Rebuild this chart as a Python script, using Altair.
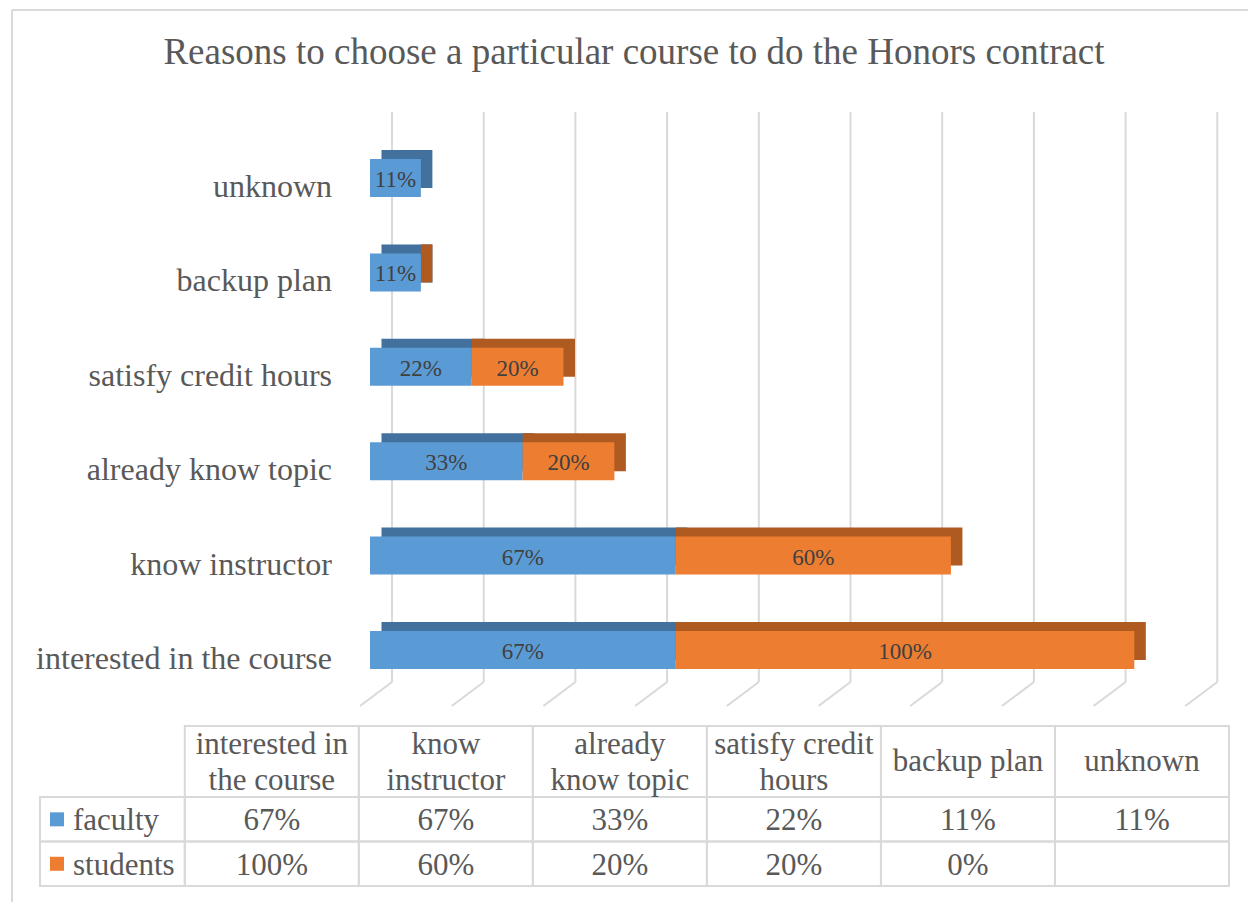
import altair as alt
import pandas as pd

# ---------------- data ----------------
title = "Reasons to choose a particular course to do the Honors contract"
categories = ["interested in the course", "know instructor", "already know topic",
              "satisfy credit hours", "backup plan", "unknown"]
header_labels = ["interested in\nthe course", "know\ninstructor", "already\nknow topic",
                 "satisfy credit\nhours", "backup plan", "unknown"]
series = ["faculty", "students"]
faculty = [0.667, 0.667, 0.333, 0.222, 0.111, 0.111]
students = [1.00, 0.60, 0.20, 0.20, 0.00, None]
grid_ticks = [0.0, 0.2, 0.4, 0.6, 0.8, 1.0, 1.2, 1.4, 1.6, 1.8]

colors = ["#5B9BD5", "#ED7D31"]
dark_colors = ["#41719C", "#AE5A21"]
FONT = "'Liberation Serif', 'Times New Roman', Times, 'DejaVu Serif', serif"
TXT = "#595959"
GRID = "#D9D9D9"

# ---------------- tables ----------------
rows = []
for i, c in enumerate(categories):
    for s_idx, (s, vals) in enumerate(zip(series, [faculty, students])):
        v = vals[i]
        if v is not None:
            rows.append({"category": c, "series": s, "s_idx": s_idx, "value": v})
bars_df = pd.DataFrame(rows)
grid_df = pd.DataFrame({"g": grid_ticks})
cat_df = pd.DataFrame({"category": categories})

cat_order = list(reversed(categories))  # top to bottom

xs = alt.Scale(domain=[0, 1.8], range=[362, 362 + 180 * 4.585])
ys = alt.Scale(type="band", domain=cat_order, range=[122.8, 689.2], paddingInner=0, paddingOuter=0)
col_scale = alt.Scale(domain=series, range=colors)
dark_scale = alt.Scale(domain=series, range=dark_colors)


def stacked(base):
    return base.transform_stack(
        stack="value", groupby=["category"], sort=[alt.SortField("s_idx")], as_=["v0", "v1"]
    ).transform_calculate(mid="(datum.v0 + datum.v1) / 2")


# gridlines (back wall + floor)
grid_v = alt.Chart(grid_df).mark_rule(color=GRID, strokeWidth=2, xOffset=22).encode(
    x=alt.X("g:Q", scale=xs, axis=None), y=alt.value(104), y2=alt.value(674)
)
grid_d = alt.Chart(grid_df).mark_rule(color=GRID, strokeWidth=2, xOffset=22, x2Offset=-10).encode(
    x=alt.X("g:Q", scale=xs, axis=None), x2="g:Q", y=alt.value(674), y2=alt.value(698)
)

# back (top / side) faces
back_fac = stacked(alt.Chart(bars_df)).transform_filter(alt.datum.series == "faculty").mark_bar(
    size=38, xOffset=11.5, x2Offset=11.5, yOffset=-9, y2Offset=-9
).encode(
    x=alt.X("v0:Q", scale=xs, axis=None), x2="v1:Q",
    y=alt.Y("category:N", scale=ys, axis=None),
    color=alt.Color("series:N", scale=dark_scale, legend=None),
)
back_stu = stacked(alt.Chart(bars_df)).transform_filter(alt.datum.series == "students").mark_bar(
    size=38, xOffset=0, x2Offset=11.5, yOffset=-9, y2Offset=-9
).encode(
    x=alt.X("v0:Q", scale=xs, axis=None), x2="v1:Q",
    y=alt.Y("category:N", scale=ys, axis=None),
    color=alt.Color("series:N", scale=dark_scale, legend=None),
)
front = stacked(alt.Chart(bars_df)).mark_bar(size=38).encode(
    x=alt.X("v0:Q", scale=xs, axis=None), x2="v1:Q",
    y=alt.Y("category:N", scale=ys, axis=None),
    color=alt.Color("series:N", scale=col_scale, legend=None),
)
bar_labels = stacked(alt.Chart(bars_df)).transform_filter(alt.datum.value > 0).mark_text(
    font=FONT, fontSize=23, color="#404040", baseline="middle", align="center", dy=2
).encode(
    x=alt.X("mid:Q", scale=xs, axis=None),
    y=alt.Y("category:N", scale=ys, axis=None),
    text=alt.Text("value:Q", format=".0%"),
)
cat_labels = alt.Chart(cat_df).mark_text(
    font=FONT, fontSize=32, color=TXT, align="right", baseline="middle", dy=9
).encode(
    x=alt.value(324),
    y=alt.Y("category:N", scale=ys, axis=None),
    text="category:N",
)

title_layer = alt.Chart(alt.Data(values=[{"t": title}])).mark_text(
    font=FONT, fontSize=37, color=TXT, align="center", baseline="middle"
).encode(x=alt.value(626), y=alt.value(45), text="t:N")

# ---------------- data table ----------------
LEG = 0.832
HEAD = 1.6
cells = []
text_cells = []
header_cells = []
for i, c in enumerate(categories):
    cells.append({"x0": i, "x1": i + 1, "y0": 0, "y1": HEAD})
    header_cells.append({"xc": i + 0.5, "yc": HEAD / 2, "t": header_labels[i],
                         "lines": header_labels[i].count("\n") + 1})
for r, (s, vals) in enumerate(zip(series, [faculty, students])):
    y0 = HEAD + r
    cells.append({"x0": -LEG, "x1": 0, "y0": y0, "y1": y0 + 1})
    for i, v in enumerate(vals):
        cells.append({"x0": i, "x1": i + 1, "y0": y0, "y1": y0 + 1})
        if v is not None:
            text_cells.append({"xc": i + 0.5, "yc": y0 + 0.5, "t": f"{round(v * 100)}%"})
cells_df = pd.DataFrame(cells)
tcell_df = pd.DataFrame(text_cells)
hcell_df = pd.DataFrame(header_cells)
legend_df = pd.DataFrame({"series": series, "yc": [HEAD + 0.5, HEAD + 1.5]})

tx = alt.Scale(domain=[-LEG, 6], range=[32, 1221])
ty = alt.Scale(domain=[0, HEAD + 2], range=[718, 878])

table_cells = alt.Chart(cells_df).mark_rect(fill=None, stroke=GRID, strokeWidth=2).encode(
    x=alt.X("x0:Q", scale=tx, axis=None), x2="x1:Q",
    y=alt.Y("y0:Q", scale=ty, axis=None), y2="y1:Q",
)
table_text = alt.Chart(tcell_df).mark_text(
    font=FONT, fontSize=31, color=TXT, align="center", baseline="middle", dy=2
).encode(
    x=alt.X("xc:Q", scale=tx, axis=None),
    y=alt.Y("yc:Q", scale=ty, axis=None),
    text="t:N",
)
header_one = alt.Chart(hcell_df).transform_filter(alt.datum.lines == 1).mark_text(
    font=FONT, fontSize=31, color=TXT, align="center", baseline="middle"
).encode(
    x=alt.X("xc:Q", scale=tx, axis=None),
    y=alt.Y("yc:Q", scale=ty, axis=None),
    text="t:N",
)
header_two = alt.Chart(hcell_df).transform_filter(alt.datum.lines == 2).mark_text(
    font=FONT, fontSize=31, color=TXT, align="center", baseline="middle",
    lineBreak="\n", lineHeight=36, dy=-17
).encode(
    x=alt.X("xc:Q", scale=tx, axis=None),
    y=alt.Y("yc:Q", scale=ty, axis=None),
    text="t:N",
)
legend_sw = alt.Chart(legend_df).mark_square(size=196, opacity=1, filled=True).encode(
    x=alt.value(49),
    y=alt.Y("yc:Q", scale=ty, axis=None),
    color=alt.Color("series:N", scale=col_scale, legend=None),
)
legend_tx = alt.Chart(legend_df).mark_text(
    font=FONT, fontSize=31, color=TXT, align="left", baseline="middle", dy=2
).encode(
    x=alt.value(65),
    y=alt.Y("yc:Q", scale=ty, axis=None),
    text="series:N",
)

# outer frame (top and left edges)
frame_top = alt.Chart(alt.Data(values=[{}])).mark_rule(color=GRID, strokeWidth=2).encode(
    x=alt.value(4), x2=alt.value(1240), y=alt.value(2)
)
frame_left = alt.Chart(alt.Data(values=[{}])).mark_rule(color=GRID, strokeWidth=2).encode(
    x=alt.value(4), y=alt.value(2), y2=alt.value(894)
)

chart = alt.layer(
    frame_top, frame_left, title_layer,
    grid_v, grid_d, back_fac, back_stu, front, bar_labels, cat_labels,
    table_cells, table_text, header_one, header_two, legend_sw, legend_tx,
).resolve_scale(x="independent", y="independent", color="independent").properties(
    width=1240, height=894, padding=0, autosize=alt.AutoSizeParams(type="none"),
    background="white",
).configure_view(stroke=None)

chart.save("out.html", embed_options={"renderer": "svg", "actions": False})
